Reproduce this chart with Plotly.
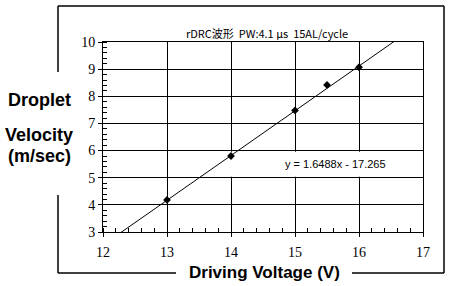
import plotly.graph_objects as go

# Data
voltage = [13.0, 14.0, 15.0, 15.5, 16.0]
velocity = [4.18, 5.80, 7.48, 8.42, 9.07]

# Trendline coefficients (from the equation label)
slope = 1.6488
intercept = -17.265
trend_x = [12.0, 17.0]
trend_y = [slope * x + intercept for x in trend_x]

x_ticks = [12, 13, 14, 15, 16, 17]
y_ticks = [3, 4, 5, 6, 7, 8, 9, 10]

title_text = "rDRC波形  PW:4.1 μs  15AL/cycle"
eq_text = "y = 1.6488x - 17.265"

W, H = 450, 286
L, R, T, B = 103, 423, 42, 232


def xp(px):
    return (px - L) / (R - L)


def yp(py):
    return (B - py) / (B - T)


fig = go.Figure()
fig.add_trace(go.Scatter(x=trend_x, y=trend_y, mode="lines",
                         line=dict(color="black", width=1), hoverinfo="skip"))
fig.add_trace(go.Scatter(x=voltage, y=velocity, mode="markers",
                         marker=dict(symbol="diamond", size=6, color="black")))

axis_common = dict(
    showline=True, linecolor="black", linewidth=1, mirror=True,
    showgrid=True, gridcolor="black", gridwidth=1, zeroline=False,
    ticks="outside", ticklen=4, tickcolor="black", tickwidth=1,
    tickfont=dict(family="Liberation Serif", size=14, color="black"),
    minor=dict(ticks="inside", ticklen=4, dtick=0.2, tickcolor="black",
               tickwidth=1, showgrid=False),
    fixedrange=True,
)

fig.update_layout(
    width=W, height=H,
    margin=dict(l=L, r=W - R, t=T, b=H - B),
    paper_bgcolor="white", plot_bgcolor="white",
    showlegend=False,
    xaxis=dict(range=[12, 17], tickvals=x_ticks, ticklabelstandoff=3,
               **axis_common),
    yaxis=dict(range=[3, 10], tickvals=y_ticks, **axis_common),
)

# Outer frame (with gaps where the axis titles sit)
frame = [
    ((58, 6), (444, 6)),
    ((444, 6), (444, 273)),
    ((58, 273), (176, 273)),
    ((352, 273), (444, 273)),
    ((58, 6), (58, 72)),
    ((58, 195), (58, 273)),
]
for (x0, y0), (x1, y1) in frame:
    fig.add_shape(type="line", xref="paper", yref="paper",
                  x0=xp(x0), y0=yp(y0), x1=xp(x1), y1=yp(y1),
                  line=dict(color="black", width=1.5))

# White box behind the equation label (covers gridlines, below traces)
fig.add_shape(type="rect", xref="x", yref="y", x0=13.93, x1=16.96,
              y0=5.04, y1=5.96, fillcolor="white", line=dict(width=0),
              layer="between")

fig.add_annotation(x=15.63, y=5.51, xref="x", yref="y", text=eq_text,
                   showarrow=False, xanchor="center", yanchor="middle",
                   font=dict(family="Liberation Sans", size=11, color="black"))

fig.add_annotation(x=xp(267), y=yp(33), xref="paper", yref="paper",
                   text=title_text, showarrow=False,
                   xanchor="center", yanchor="middle",
                   font=dict(family="Noto Sans CJK JP", size=11, color="black"))

lab_font = dict(family="Liberation Sans", size=18, color="black")
for txt, cy in [("<b>Droplet</b>", 100), ("<b>Velocity</b>", 135),
                ("<b>(m/sec)</b>", 156)]:
    fig.add_annotation(x=xp(39), y=yp(cy), xref="paper", yref="paper",
                       text=txt, showarrow=False,
                       xanchor="center", yanchor="middle", font=lab_font)

fig.add_annotation(x=xp(264), y=yp(272), xref="paper", yref="paper",
                   text="<b>Driving Voltage (V)</b>", showarrow=False,
                   xanchor="center", yanchor="middle",
                   bgcolor="white",
                   font=dict(family="Liberation Sans", size=17, color="black"))

fig.write_html("out.html")
